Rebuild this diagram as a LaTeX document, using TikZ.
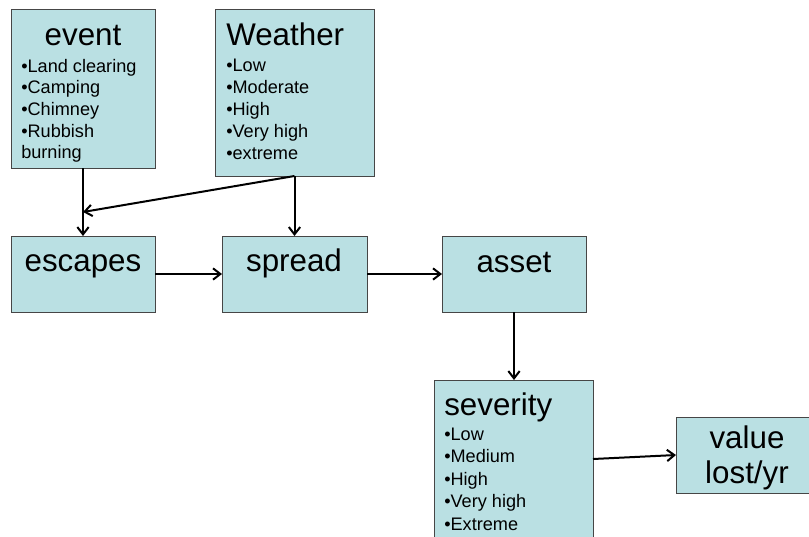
\documentclass[tikz,border=0pt]{standalone}
\usepackage{fontspec}
\setmainfont{Liberation Sans}
\usetikzlibrary{arrows.meta}
\definecolor{boxfill}{RGB}{186,224,227}
\definecolor{boxline}{RGB}{70,70,70}
\tikzset{
  box/.style={draw=boxline, fill=boxfill, line width=0.75pt, inner sep=0pt, outer sep=0pt, anchor=north west},
  ttl/.style={inner sep=0pt, font=\fontsize{23.5}{28}\selectfont},
  bul/.style={inner sep=0pt, anchor=base west, font=\fontsize{13.6}{16}\selectfont},
  conn/.style={line width=1.5pt, -{Straight Barb[length=5.5pt,width=8.5pt,line width=1.5pt]}}
}
\begin{document}
\begin{tikzpicture}[x=0.75pt,y=-0.75pt]
\clip (0,0) rectangle (809,536);
\fill[white] (0,0) rectangle (809,536);
% boxes
\node[box, minimum width=108pt, minimum height=119.25pt] (ev) at (11,9) {};
\node[box, minimum width=119.25pt, minimum height=125.25pt] (we) at (215,9) {};
\node[box, minimum width=108pt, minimum height=57pt] (es) at (11,236) {};
\node[box, minimum width=108.75pt, minimum height=57pt] (sp) at (222,236) {};
\node[box, minimum width=108pt, minimum height=57pt] (as) at (442,236) {};
\node[box, minimum width=119.25pt, minimum height=118.5pt] (se) at (434,380) {};
\node[box, minimum width=106.5pt, minimum height=57pt] (va) at (676,417) {};
% titles
\node[ttl, anchor=base] (evt) at (83,45) {event};
\node[ttl, anchor=base west] (wet) at (226,45) {Weather};
\node[ttl, anchor=base] (est) at (83,271) {escapes};
\node[ttl, anchor=base] (spt) at (294,271) {spread};
\node[ttl, anchor=base] (ast) at (514,272) {asset};
\node[ttl, anchor=base west] (set) at (444,415) {severity};
\node[ttl, anchor=base] (vat1) at (747,448) {value};
\node[ttl, anchor=base] (vat2) at (747,483) {lost/yr};
% bullet lists
\foreach \t [count=\i] in {•Land clearing,•Camping,•Chimney,•Rubbish,burning}
  \node[bul] (evb\i) at (21,{72+21.7*(\i-1)}) {\t};
\foreach \t [count=\i] in {•Low,•Moderate,•High,•Very high,•extreme}
  \node[bul] (web\i) at (226,{71+22*(\i-1)}) {\t};
\foreach \t [count=\i] in {•Low,•Medium,•High,•Very high,•Extreme}
  \node[bul] (seb\i) at (444,{440+22.5*(\i-1)}) {\t};
% connectors
\coordinate (m) at (83,212);
\draw[conn] (ev.south) -- (es.north);
\draw[conn] (we.south) -- (m);
\draw[conn] (we.south) -- (sp.north);
\draw[conn] (es.east) -- (sp.west);
\draw[conn] (sp.east) -- (as.west);
\draw[conn] (as.south) -- (as.south |- se.north);
\draw[conn] (se.east) -- (va.west);
\end{tikzpicture}
\end{document}
